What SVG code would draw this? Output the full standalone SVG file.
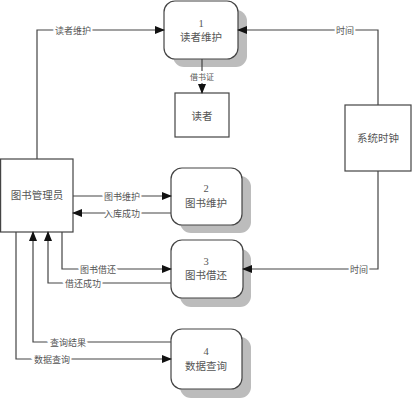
<svg xmlns="http://www.w3.org/2000/svg" width="412" height="400" viewBox="0 0 412 400">
<defs>
<marker id="arr" markerWidth="10" markerHeight="8" refX="9" refY="4" orient="auto" markerUnits="userSpaceOnUse">
<path d="M0,0 L10,4 L0,8 Z" fill="#111"/>
</marker>
<style>
.box{fill:#fff;stroke:#444;stroke-width:1.2}
.shadow{fill:#bcbcbc}
.nt{font-family:"Noto Sans CJK SC","Noto Sans CJK JP",sans-serif;font-size:10.5px;fill:#555;text-anchor:middle;dominant-baseline:central}
.num{font-family:"Liberation Serif",serif;font-size:10.5px;fill:#555;text-anchor:middle;dominant-baseline:central}
.ln{fill:none;stroke:#444;stroke-width:1.2}
.lb{font-family:"Noto Sans CJK SC","Noto Sans CJK JP",sans-serif;font-size:9px;fill:#555;text-anchor:middle;dominant-baseline:central;paint-order:stroke;stroke:#fff;stroke-width:4px}
</style>
</defs>
<rect width="412" height="400" fill="#fff"/>
<g id="p1">
<rect class="shadow" x="173" y="10" width="74" height="57" rx="11"/>
<rect class="box" x="164" y="1" width="74" height="58" rx="11"/>
<text class="num" x="201" y="23">1</text>
<text class="nt" x="201" y="36">读者维护</text>
</g>
<g id="readers">
<rect class="box" x="175" y="93" width="54" height="44"/>
<text class="nt" x="202" y="115">读者</text>
</g>
<g id="librarian">
<rect class="box" x="0.6" y="159" width="72.4" height="73"/>
<text class="nt" x="37" y="194">图书管理员</text>
</g>
<g id="clock">
<rect class="box" x="345" y="105" width="66" height="66"/>
<text class="nt" x="378" y="137">系统时钟</text>
</g>
<g id="p2">
<rect class="shadow" x="180" y="176" width="71" height="57" rx="11"/>
<rect class="box" x="171" y="168" width="71" height="57" rx="11"/>
<text class="num" x="206" y="188">2</text>
<text class="nt" x="206" y="202">图书维护</text>
</g>
<g id="p3">
<rect class="shadow" x="180" y="249" width="71" height="58" rx="11"/>
<rect class="box" x="171" y="240" width="72" height="58" rx="11"/>
<text class="num" x="206" y="261">3</text>
<text class="nt" x="206" y="274">图书借还</text>
</g>
<g id="p4">
<rect class="shadow" x="180" y="337" width="71" height="61" rx="11"/>
<rect class="box" x="171" y="329" width="71" height="60" rx="11"/>
<text class="num" x="206" y="351">4</text>
<text class="nt" x="206" y="365">数据查询</text>
</g>
<g id="connectors">
<path class="ln" d="M37,159 V30 H164" marker-end="url(#arr)"/>
<path class="ln" d="M378,105 V30 H238" marker-end="url(#arr)"/>
<path class="ln" d="M202,59 V93" marker-end="url(#arr)"/>
<path class="ln" d="M73,196 H171" marker-end="url(#arr)"/>
<path class="ln" d="M171,213 H73" marker-end="url(#arr)"/>
<path class="ln" d="M62,232 V269 H171" marker-end="url(#arr)"/>
<path class="ln" d="M171,283 H48 V232" marker-end="url(#arr)"/>
<path class="ln" d="M378,171 V269 H243" marker-end="url(#arr)"/>
<path class="ln" d="M171,342 H33 V232" marker-end="url(#arr)"/>
<path class="ln" d="M16,232 V359 H171" marker-end="url(#arr)"/>
<text class="lb" x="73" y="30">读者维护</text>
<text class="lb" x="345" y="30">时间</text>
<text class="lb" x="202" y="76" style="font-size:8px">借书证</text>
<text class="lb" x="122" y="196">图书维护</text>
<text class="lb" x="122" y="213">入库成功</text>
<text class="lb" x="98" y="269">图书借还</text>
<text class="lb" x="83" y="283">借还成功</text>
<text class="lb" x="359" y="269">时间</text>
<text class="lb" x="68" y="342">查询结果</text>
<text class="lb" x="52" y="359">数据查询</text>
</g>
</svg>
